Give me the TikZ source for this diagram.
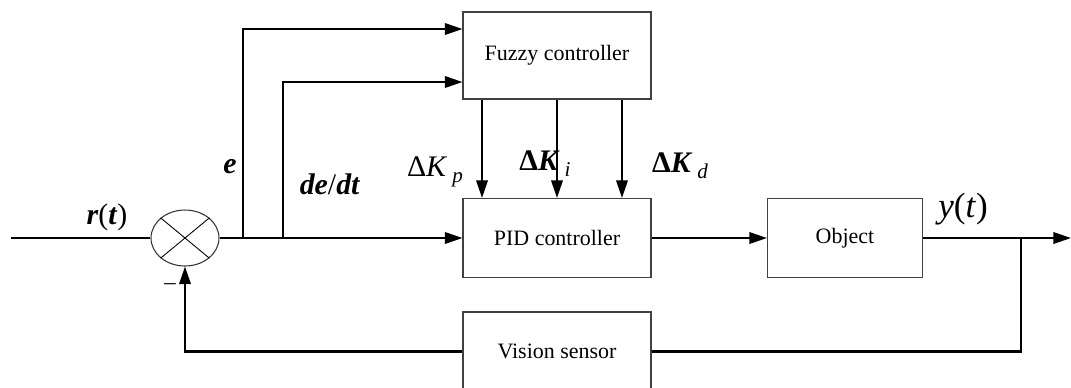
\documentclass[tikz,border=0pt]{standalone}
\usepackage{fontspec}
\setmainfont{Liberation Serif}
\usetikzlibrary{arrows.meta,shapes.geometric}

\newcommand{\lowsub}[1]{\raisebox{-0.45ex}{\fontsize{12}{14}\selectfont\textit{#1}}}

\begin{document}
\begin{tikzpicture}[
    x=0.02cm, y=-0.02cm,
    box/.style={draw=black!75, line width=0.6pt, minimum width=#1,
                minimum height=1.58cm, font=\fontsize{12.5}{15}\selectfont},
    arr/.style={-{Triangle[length=10pt,width=6.5pt]}, line width=1.2pt},
    wire/.style={line width=1.2pt},
    lbl/.style={font=\fontsize{17}{19}\selectfont},
]
    \clip (0,0) rectangle (1071,387);

    \node[box=3.76cm, minimum height=1.74cm] (fuzzy) at (557, 55.5) {Fuzzy controller};
    \node[box=3.76cm] (pid)  at (557, 238) {PID controller};
    \node[box=3.1cm, text depth=0.5ex]  (obj)  at (845, 238) {Object};
    \node[box=3.76cm] (vis)  at (557, 351.5) {Vision sensor};
    \node[draw=black!80, line width=0.6pt, ellipse, minimum width=1.36cm,
          minimum height=1.12cm, inner sep=0pt] (sum) at (185, 238) {};
    \draw[line width=0.5pt] (sum.north east) -- (sum.south west)
                            (sum.north west) -- (sum.south east);

    \coordinate (in)  at (11, 238);
    \coordinate (eb)  at (243, 238);
    \coordinate (db)  at (283, 238);
    \coordinate (yb)  at (1021, 238);
    \coordinate (out) at (1071, 238);

    \draw[wire] (in) -- (sum.west);
    \draw[arr]  (sum.east) -- (pid.west);
    \draw[arr]  (eb) |- ([yshift=0.53cm]fuzzy.west);
    \draw[arr]  (db) |- ([yshift=-0.53cm]fuzzy.west);
    \draw[arr]  ([xshift=-1.5cm]fuzzy.south) -- ([xshift=-1.5cm]pid.north);
    \draw[arr]  (fuzzy.south) -- (pid.north);
    \draw[arr]  ([xshift=1.3cm]fuzzy.south) -- ([xshift=1.3cm]pid.north);
    \draw[arr]  (pid) -- (obj);
    \draw[arr]  (obj.east) -- (out);
    \draw[wire] (yb) |- (vis.east);
    \draw[arr]  (vis.west) -| (sum.south);

    \node[lbl] (rt)  at (107, 217) {\textbf{\textit{r}}(\textbf{\textit{t}})};
    \node[lbl] (e)   at (230, 167) {\textbf{\textit{e}}};
    \node[lbl] (de)  at (330, 184) {\textbf{\textit{de}}/\textbf{\textit{dt}}};
    \node[lbl] (kp)  at (435, 172) {Δ\textit{K}\,\lowsub{p}};
    \node[lbl] (ki)  at (545, 164) {\textbf{Δ\textit{K}}\,\lowsub{i}};
    \node[lbl] (kd)  at (680, 166) {\textbf{Δ\textit{K}}\,\lowsub{d}};
    \node[font=\fontsize{20}{22}\selectfont] (yt) at (963, 209) {\textit{y}(\textit{t})};
    \node[font=\fontsize{13}{15}\selectfont] (minus) at (170, 287) {--};
\end{tikzpicture}
\end{document}
